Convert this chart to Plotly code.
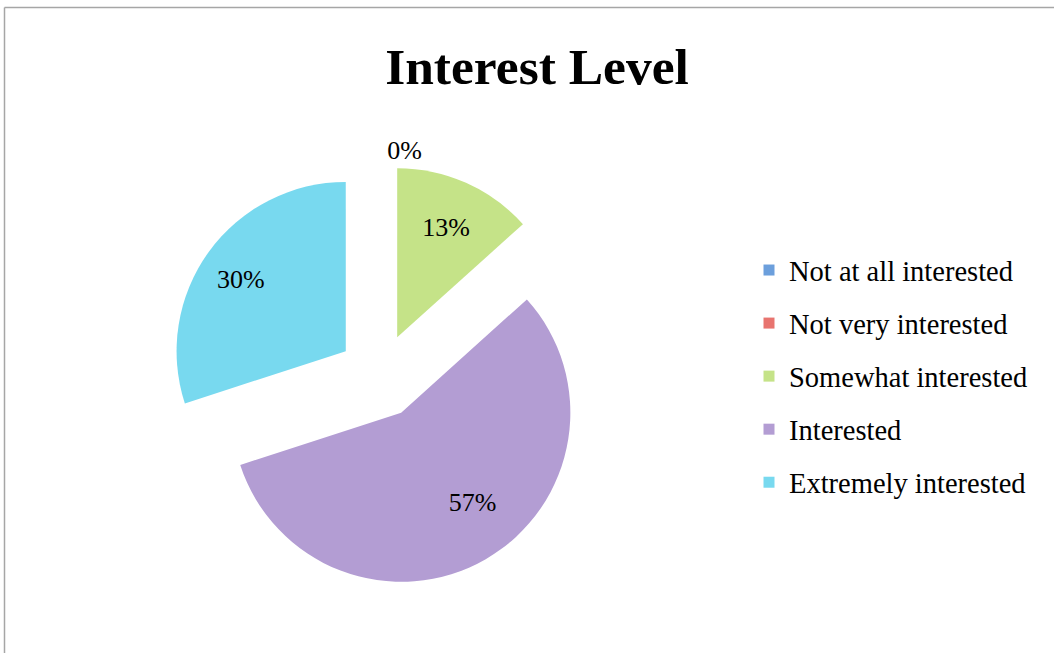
import plotly.graph_objects as go

# Survey responses (counts) per interest level
categories = ["Not at all interested", "Not very interested", "Somewhat interested",
              "Interested", "Extremely interested"]
responses = [0, 0, 4, 17, 9]
colors = ["#6c9fdc", "#e8746f", "#c5e388", "#b39dd3", "#78d9ef"]
text_positions = ["outside", "none", "inside", "inside", "inside"]

W, H = 1054, 653
FONT = "Liberation Serif"
NB = "\u00a0"

# Per-slice label templates; padding nudges labels within their slices
label_templates = [
    "%{percent:.0%}",
    "%{percent:.0%}",
    "%{percent:.0%}",
    NB + "<br>" + NB * 9 + "%{percent:.0%}",
    "%{percent:.0%}" + NB * 9 + "<br>" + NB,
]

fig = go.Figure()

fig.add_trace(go.Pie(
    labels=categories,
    values=responses,
    sort=False,
    direction="clockwise",
    rotation=0,
    pull=0.25,
    marker=dict(colors=colors, line=dict(width=0)),
    texttemplate=label_templates,
    textposition=text_positions,
    insidetextorientation="horizontal",
    textfont=dict(family=FONT, size=26, color="#000000"),
    outsidetextfont=dict(family=FONT, size=26, color="#000000"),
    domain=dict(x=[168.5 / W, 591.5 / W], y=[1 - 587.5 / H, 1 - 164.5 / H]),
    showlegend=False,
    hoverinfo="label+percent",
))

# Legend entries, one group per category so they can be spaced apart
for name, c in zip(categories, colors):
    fig.add_trace(go.Scatter(
        x=[None], y=[None], mode="markers", name=name, legendgroup=name,
        marker=dict(symbol="square", size=11, color=c),
        hoverinfo="skip",
    ))

fig.update_layout(
    width=W, height=H,
    margin=dict(l=0, r=0, t=0, b=0, autoexpand=False),
    paper_bgcolor="white",
    plot_bgcolor="white",
    xaxis=dict(visible=False),
    yaxis=dict(visible=False),
    title=dict(text="<b>Interest Level</b>", x=537 / W, xanchor="center",
               y=1 - 66 / H, yanchor="middle",
               font=dict(family=FONT, size=51.5, color="#000000")),
    legend=dict(
        x=749 / W, xanchor="left", y=1 - 245 / H, yanchor="top",
        traceorder="grouped", tracegroupgap=13,
        font=dict(family=FONT, size=28.5, color="#000000"),
        bgcolor="rgba(0,0,0,0)", itemwidth=30,
    ),
    shapes=[
        dict(type="line", xref="paper", yref="paper",
             x0=4.5 / W, x1=1.0, y0=1 - 7.5 / H, y1=1 - 7.5 / H,
             line=dict(color="#a6a6a6", width=1.5)),
        dict(type="line", xref="paper", yref="paper",
             x0=4.5 / W, x1=4.5 / W, y0=0, y1=1 - 7.5 / H,
             line=dict(color="#a6a6a6", width=1.5)),
    ],
)

fig.write_html("out.html")
